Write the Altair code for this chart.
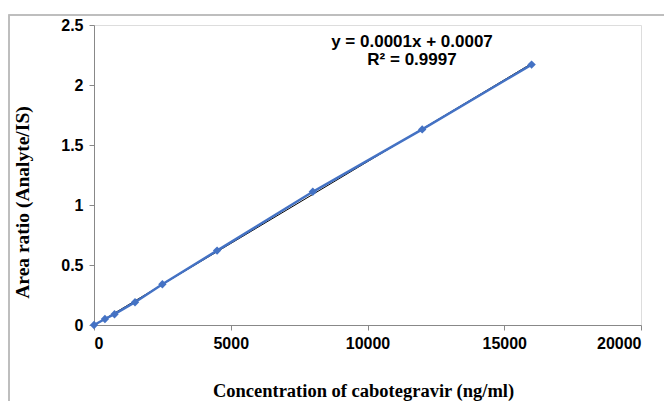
import altair as alt
import pandas as pd

conc = [0, 400, 750, 1500, 2500, 4500, 8000, 12000, 16000]
ratio = [0.0, 0.05, 0.09, 0.19, 0.34, 0.62, 1.11, 1.63, 2.17]
eq_lines = ["y = 0.0001x + 0.0007", "R² = 0.9997"]

df = pd.DataFrame({"x": conc, "y": ratio})
BLUE = "#4472C4"
SANS = "Liberation Sans Narrow, Arial Narrow, Liberation Sans"
SERIF = "Liberation Serif, Times New Roman"

x_enc = alt.X("x:Q", scale=alt.Scale(domain=[0, 20000], nice=False),
              axis=alt.Axis(values=[0, 5000, 10000, 15000, 20000], format="d",
                            title="Concentration of cabotegravir (ng/ml)",
                            grid=False, domainColor="#888888", tickColor="#888888", tickSize=5,
                            labelFont=SANS, labelFontSize=16, labelFontWeight="bold", labelColor="#000000",
                            labelPadding=5, titleFont=SERIF, titleFontSize=18.5, titleFontWeight="bold",
                            titleColor="#000000", titlePadding=30, titleX=269, titleAlign="center"))
y_enc = alt.Y("y:Q", scale=alt.Scale(domain=[0, 2.5], nice=False),
              axis=alt.Axis(values=[0, 0.5, 1, 1.5, 2, 2.5], format="~g", title="Area ratio (Analyte/IS)",
                            grid=False, domainColor="#888888", tickColor="#888888", tickSize=5,
                            labelFont=SANS, labelFontSize=16, labelFontWeight="bold", labelColor="#000000",
                            labelPadding=6, titleFont=SERIF, titleFontSize=19.5, titleFontWeight="bold",
                            titleColor="#000000", titleX=-72, titleY=177, titleAngle=270,
                            titleAlign="center", titleBaseline="middle"))

base = alt.Chart(df)
line = base.mark_line(color=BLUE, strokeWidth=2.5).encode(x=x_enc, y=y_enc)
pts = base.mark_point(shape="diamond", filled=True, color=BLUE, size=70, opacity=1).encode(x="x:Q", y="y:Q")
reg = base.transform_regression("x", "y", method="linear", extent=[0, 16000]).mark_line(
    color="#000000", strokeWidth=1).encode(x="x:Q", y="y:Q")

eq_df = pd.DataFrame({"t": eq_lines, "i": [0, 1]})
eq = alt.Chart(eq_df).mark_text(font="Liberation Sans", fontSize=17, fontWeight="bold", color="#000000",
                                align="center", baseline="middle").encode(
    x=alt.value(318), y=alt.value(17), yOffset=alt.YOffset("i:Q", scale=alt.Scale(domain=[0, 1], range=[0, 18])),
    text="t:N")

frame = alt.Chart(eq_df).mark_rect(fill=None, stroke="#bbbbbb", strokeWidth=1.5, clip=False).encode(
    x=alt.value(-85), y=alt.value(-10), x2=alt.value(600), y2=alt.value(400))

chart = alt.layer(frame, reg, line, pts, eq).properties(
    width=547, height=300,
    autosize=alt.AutoSizeParams(type="none"),
    padding={"left": 94, "top": 25, "right": 23, "bottom": 76},
).configure_view(stroke=None).configure(background="#ffffff")

chart.save("out.html", embed_options={"renderer": "svg", "actions": False})
